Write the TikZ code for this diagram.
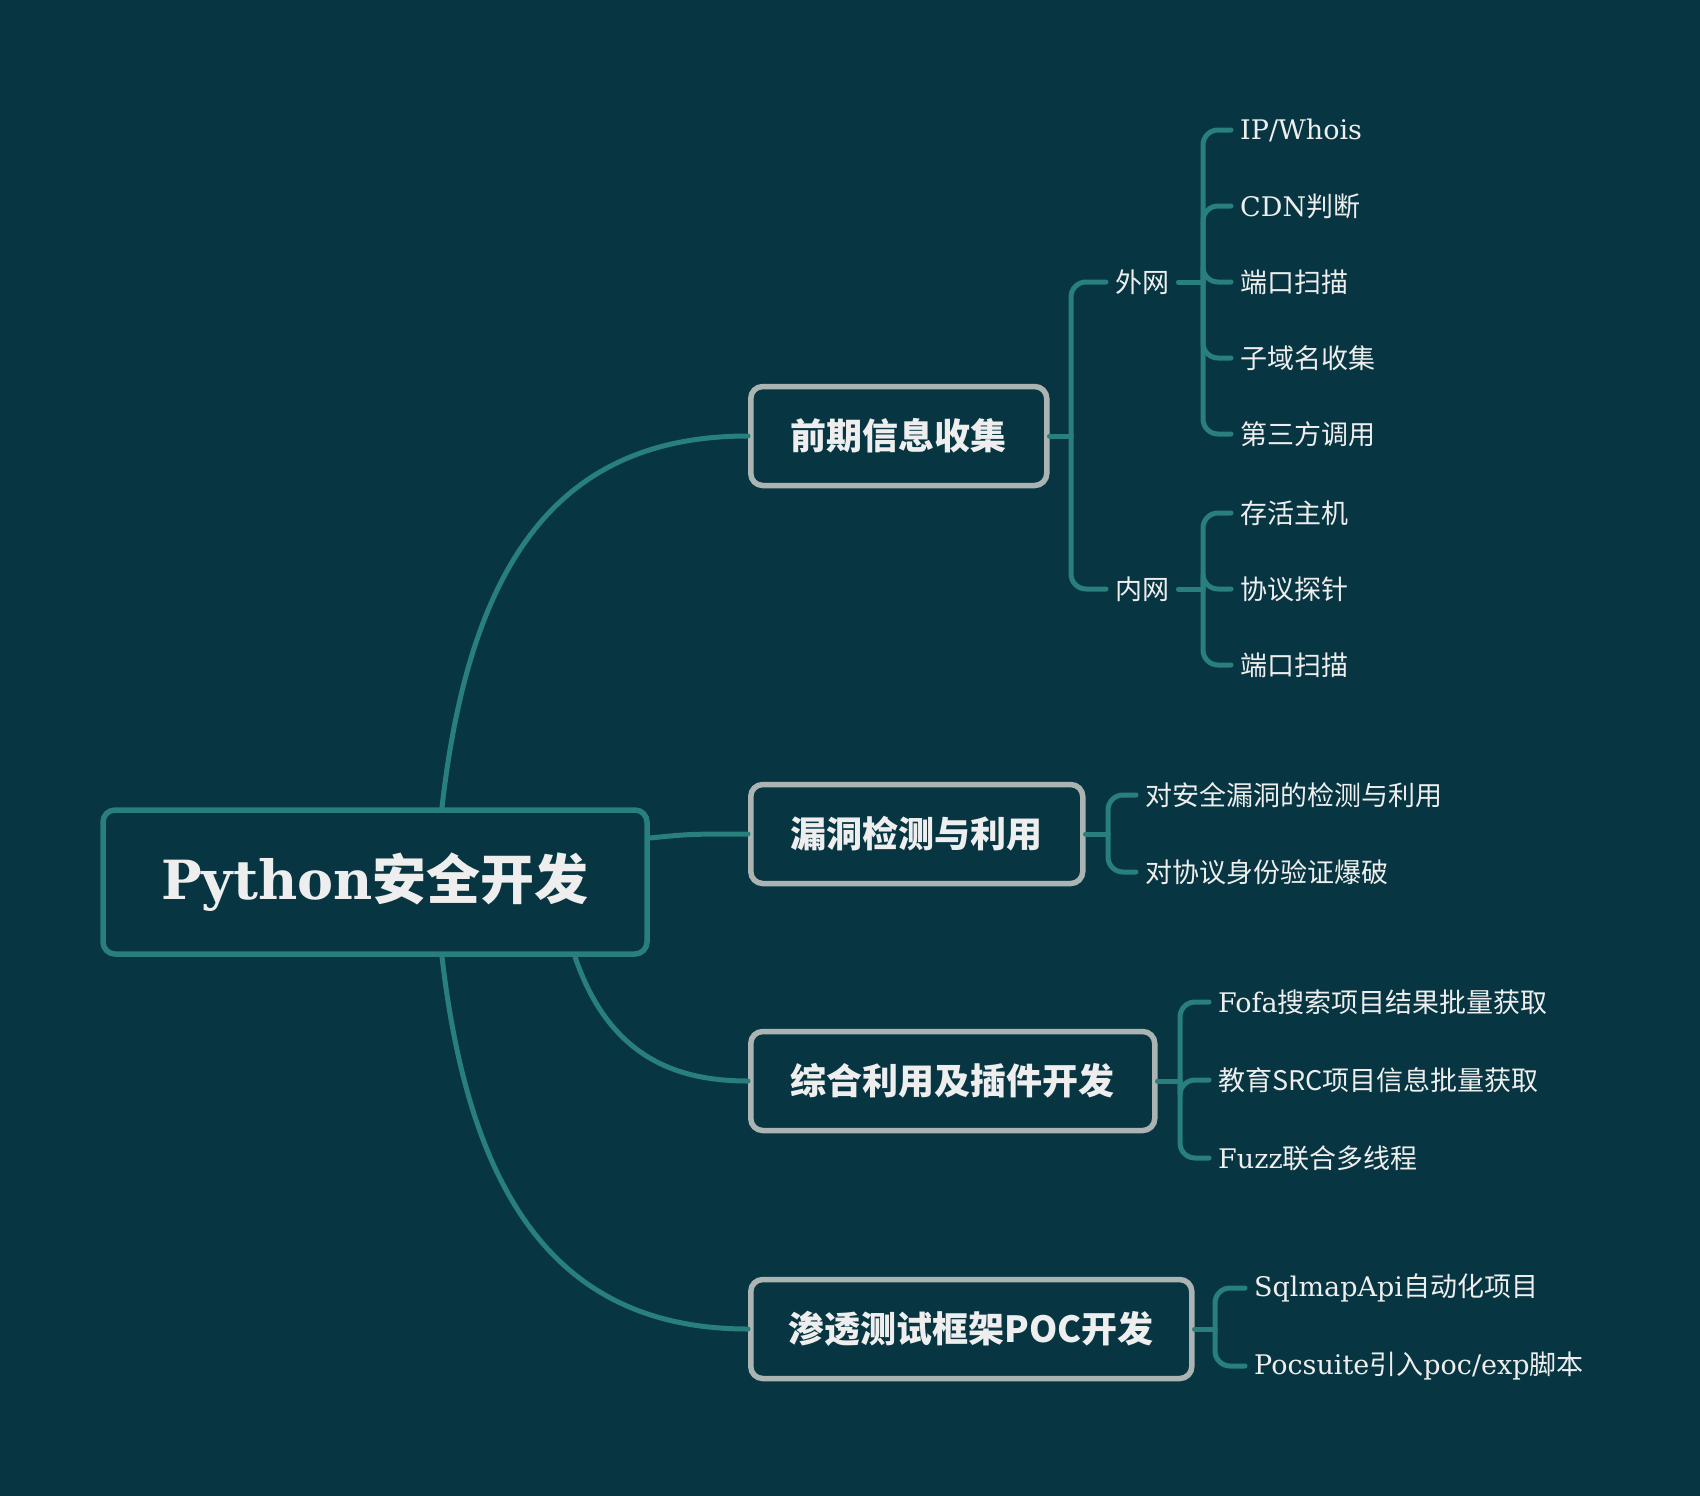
\documentclass[tikz,border=0pt]{standalone}
\usepackage{fontspec}
\setmainfont{DejaVu Serif}
\newfontfamily\cjk{Noto Sans CJK SC}
\definecolor{bgc}{HTML}{073642}
\definecolor{linec}{HTML}{287F7B}
\definecolor{boxgray}{HTML}{ABB4B2}
\definecolor{txt}{HTML}{EEEEEE}
\tikzset{
  topic/.style={draw=boxgray, line width=5.5pt, rounded corners=12pt, fill=bgc, text=txt,
    font=\cjk\bfseries\fontsize{36}{40}\selectfont, minimum height=99pt, inner xsep=40pt, anchor=west},
  leaf/.style={text=txt, font=\fontsize{27}{30}\selectfont, inner xsep=9pt, anchor=west},
  branch/.style={draw=linec, line width=5pt, rounded corners=15pt, line cap=round},
}

\begin{document}
\begin{tikzpicture}[x=1pt,y=-1pt]
\fill[bgc] (0,0) rectangle (1700,1496);
\useasboundingbox (0,0) rectangle (1700,1496);
% Root
\node[draw=linec,line width=5.5pt,rounded corners=12pt,fill=bgc,text=txt,minimum width=544pt,minimum height=144pt,
  font=\bfseries\fontsize{54}{60}\selectfont] (root) at (375,882) {Python{\cjk 安全开发}};
% Topics
\node[topic] (b1) at (748,436) {前期信息收集};
\node[topic] (b2) at (748,834) {漏洞检测与利用};
\node[topic] (b3) at (748,1081) {综合利用及插件开发};
\node[topic,inner xsep=38pt] (b4) at (748,1329) {渗透测试框架POC开发};
\draw[branch] ([xshift=67pt]root.north) .. controls (470,560) and (560,436) .. (b1.west);
\draw[branch] ([yshift=44pt]root.east) .. controls (690,834) .. (b2.west);
\draw[branch] ([xshift=200pt]root.south) .. controls (610,1060) and (680,1081) .. (b3.west);
\draw[branch] ([xshift=67pt]root.south) .. controls (470,1200) and (560,1329) .. (b4.west);
% Info gathering
\node[leaf] (wai) at (1106,282) {\cjk 外网};
\node[leaf] (nei) at (1106,589) {\cjk 内网};
\coordinate (j1) at (1071,436);
\draw[branch] (b1.east) -- (j1);
\draw[branch] (j1) |- (wai.west);
\draw[branch] (j1) |- (nei.west);
\node[leaf] (w1) at (1231,130) {IP/Whois};
\node[leaf] (w2) at (1231,206) {CDN{\cjk 判断}};
\node[leaf] (w3) at (1231,282) {\cjk 端口扫描};
\node[leaf] (w4) at (1231,358) {\cjk 子域名收集};
\node[leaf] (w5) at (1231,434) {\cjk 第三方调用};
\coordinate (j2) at (1203,282);
\draw[branch] (wai.east) -- (j2);
\draw[branch] (j2) |- (w1.west);
\draw[branch] (j2) |- (w2.west);
\draw[branch] (j2) |- (w3.west);
\draw[branch] (j2) |- (w4.west);
\draw[branch] (j2) |- (w5.west);
\node[leaf] (n1) at (1231,513) {\cjk 存活主机};
\node[leaf] (n2) at (1231,589) {\cjk 协议探针};
\node[leaf] (n3) at (1231,665) {\cjk 端口扫描};
\coordinate (j3) at (1203,589);
\draw[branch] (nei.east) -- (j3);
\draw[branch] (j3) |- (n1.west);
\draw[branch] (j3) |- (n2.west);
\draw[branch] (j3) |- (n3.west);
% Vulnerabilities
\node[leaf] (v1) at (1136,795) {\cjk 对安全漏洞的检测与利用};
\node[leaf] (v2) at (1136,872) {\cjk 对协议身份验证爆破};
\coordinate (j4) at (1108,834);
\draw[branch] (b2.east) -- (j4);
\draw[branch] (j4) |- (v1.west);
\draw[branch] (j4) |- (v2.west);
% Plugins
\node[leaf] (p1) at (1209,1002) {Fofa{\cjk 搜索项目结果批量获取}};
\node[leaf] (p2) at (1209,1080) {\cjk 教育SRC项目信息批量获取};
\node[leaf] (p3) at (1209,1158) {Fuzz{\cjk 联合多线程}};
\coordinate (j5) at (1180,1081);
\draw[branch] (b3.east) -- (j5);
\draw[branch] (j5) |- (p1.west);
\draw[branch] (j5) |- (p2.west);
\draw[branch] (j5) |- (p3.west);
% POC framework
\node[leaf] (f1) at (1245,1288) {SqlmapApi{\cjk 自动化项目}};
\node[leaf] (f2) at (1245,1366) {Pocsuite{\cjk 引入}poc/exp{\cjk 脚本}};
\coordinate (j6) at (1215,1329);
\draw[branch] (b4.east) -- (j6);
\draw[branch] (j6) |- (f1.west);
\draw[branch] (j6) |- (f2.west);
\end{tikzpicture}
\end{document}
